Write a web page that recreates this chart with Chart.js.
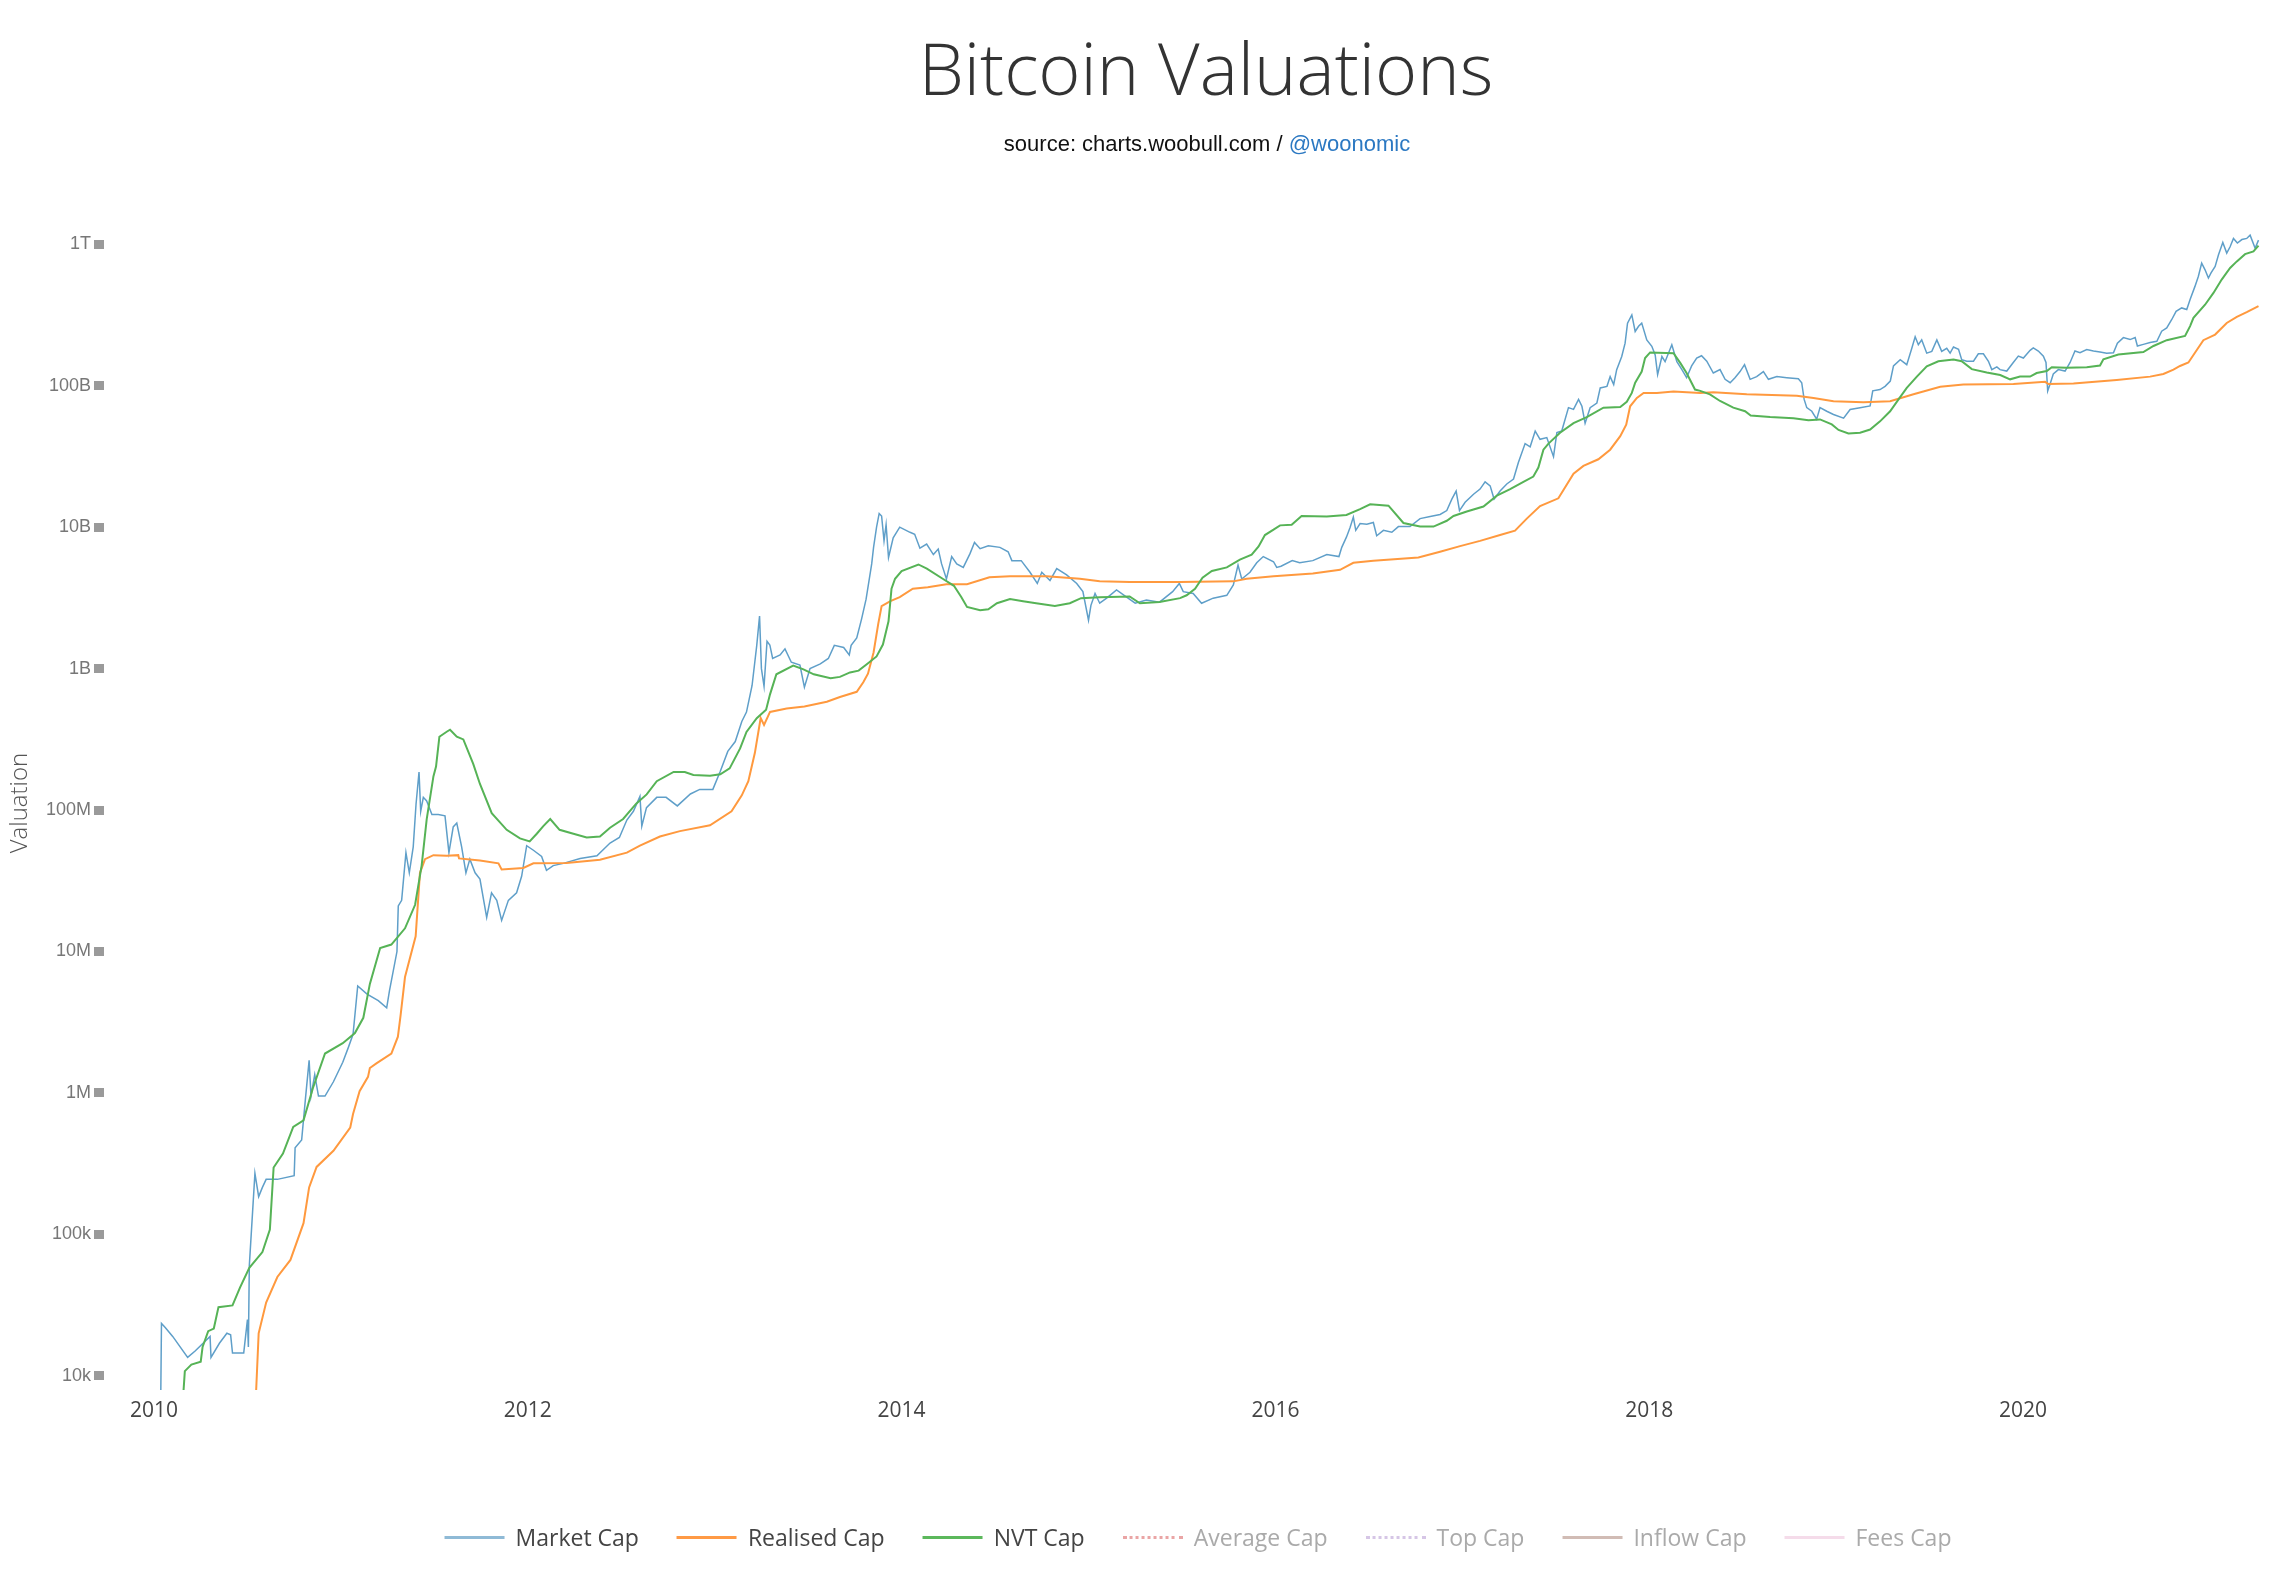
<!DOCTYPE html>
<html>
<head>
<meta charset="utf-8">
<title>Bitcoin Valuations</title>
<script src="https://cdn.jsdelivr.net/npm/chart.js@4.4.1/dist/chart.umd.min.js"></script>
<style>
  body { margin: 0; background: #fff; }
  #wrap { position: relative; width: 2290px; height: 1586px; overflow: hidden; }
  #chart { position: absolute; left: 0; top: 0; }
  .title {
    position: absolute; left: 1206px; top: 31px; transform: translateX(-50%);
    font-family: "Open Sans", sans-serif; font-weight: 300; font-size: 72px;
    line-height: 1; color: #333; white-space: nowrap;
  }
  .sub {
    position: absolute; left: 1207px; top: 133px; transform: translateX(-50%);
    font-family: "Liberation Sans", Arial, sans-serif; font-size: 22px;
    line-height: 1; color: #111; white-space: nowrap;
  }
  .sub a { color: #2b78c2; text-decoration: none; }
  #legend {
    position: absolute; left: 1198px; top: 1523px; transform: translateX(-50%);
    display: flex; align-items: center; white-space: nowrap;
    font-family: "Open Sans", sans-serif; font-size: 23px; line-height: 28px;
  }
  .item { display: flex; align-items: center; margin: 0 19px; }
  .swatch { width: 60px; height: 0; margin-right: 11px; }
</style>
</head>
<body>
<div id="wrap">
  <canvas id="chart" width="2290" height="1586"></canvas>
  <div class="title">Bitcoin Valuations</div>
  <div class="sub">source: charts.woobull.com / <a>@woonomic</a></div>
  <div id="legend"></div>
</div>
<script>
// ---- data (decimal year, USD) ----
const marketCap = [
  [2010.035, 5e3], [2010.04, 23.5e3], [2010.06, 22e3], [2010.10, 19e3], [2010.18, 13.5e3],
  [2010.22, 15e3], [2010.30, 19e3], [2010.305, 13.5e3], [2010.35, 17e3], [2010.39, 20e3],
  [2010.41, 19.5e3], [2010.42, 14.5e3], [2010.48, 14.5e3], [2010.50, 25e3], [2010.505, 16e3],
  [2010.51, 60e3], [2010.54, 270e3], [2010.56, 185e3], [2010.58, 215e3], [2010.60, 245e3],
  [2010.66, 245e3], [2010.75, 260e3], [2010.755, 410e3], [2010.79, 465e3], [2010.81, 900e3],
  [2010.83, 1.7e6], [2010.84, 950e3], [2010.86, 1.35e6], [2010.88, 950e3], [2010.915, 950e3],
  [2010.96, 1.2e6], [2011.01, 1.65e6], [2011.04, 2.1e6], [2011.065, 2.6e6], [2011.09, 5.7e6],
  [2011.14, 5.0e6], [2011.20, 4.5e6], [2011.245, 4.0e6], [2011.26, 5.3e6], [2011.30, 10e6],
  [2011.307, 21e6], [2011.325, 23e6], [2011.348, 50e6], [2011.366, 36e6], [2011.387, 55e6],
  [2011.402, 110e6], [2011.418, 186e6], [2011.427, 98e6], [2011.441, 123e6], [2011.459, 116e6],
  [2011.487, 93e6], [2011.521, 93e6], [2011.557, 91e6], [2011.578, 50e6], [2011.601, 76e6],
  [2011.62, 81e6], [2011.646, 55e6], [2011.669, 36e6], [2011.69, 45e6], [2011.718, 36e6],
  [2011.744, 32.5e6], [2011.78, 17.4e6], [2011.806, 26e6], [2011.834, 23e6], [2011.86, 16.6e6],
  [2011.896, 23e6], [2011.94, 26e6], [2011.967, 34e6], [2011.994, 56e6], [2012.03, 52e6],
  [2012.074, 47e6], [2012.10, 37.5e6], [2012.136, 40.5e6], [2012.19, 42e6], [2012.28, 45.5e6],
  [2012.37, 47.5e6], [2012.44, 58.5e6], [2012.49, 64e6], [2012.53, 85e6], [2012.565, 98e6],
  [2012.60, 125e6], [2012.61, 77e6], [2012.635, 104e6], [2012.69, 123e6], [2012.74, 123e6],
  [2012.80, 107e6], [2012.87, 130e6], [2012.92, 140e6], [2012.99, 140e6], [2013.03, 188e6],
  [2013.07, 260e6], [2013.11, 305e6], [2013.145, 423e6], [2013.17, 493e6], [2013.20, 760e6],
  [2013.225, 1.46e9], [2013.24, 2.35e9], [2013.25, 1.0e9], [2013.264, 750e6], [2013.28, 1.56e9],
  [2013.295, 1.47e9], [2013.31, 1.18e9], [2013.35, 1.25e9], [2013.376, 1.38e9], [2013.41, 1.11e9],
  [2013.456, 1.06e9], [2013.48, 740e6], [2013.51, 1.0e9], [2013.565, 1.08e9], [2013.608, 1.18e9],
  [2013.64, 1.46e9], [2013.69, 1.41e9], [2013.72, 1.25e9], [2013.73, 1.46e9], [2013.76, 1.65e9],
  [2013.786, 2.25e9], [2013.81, 3.1e9], [2013.84, 5.5e9], [2013.85, 7.2e9], [2013.866, 10e9],
  [2013.88, 12.5e9], [2013.893, 12e9], [2013.906, 8.0e9], [2013.917, 10.4e9], [2013.93, 6.1e9],
  [2013.955, 8.4e9], [2013.99, 10e9], [2014.045, 9.2e9], [2014.07, 8.9e9], [2014.098, 7.1e9],
  [2014.134, 7.6e9], [2014.17, 6.4e9], [2014.196, 7.0e9], [2014.214, 5.5e9], [2014.24, 4.3e9],
  [2014.268, 6.2e9], [2014.295, 5.5e9], [2014.33, 5.2e9], [2014.366, 6.5e9], [2014.39, 7.8e9],
  [2014.42, 7.05e9], [2014.464, 7.4e9], [2014.526, 7.2e9], [2014.57, 6.7e9], [2014.59, 5.8e9],
  [2014.64, 5.8e9], [2014.687, 4.8e9], [2014.726, 4.0e9], [2014.75, 4.8e9], [2014.794, 4.2e9],
  [2014.83, 5.1e9], [2014.883, 4.6e9], [2014.937, 4.0e9], [2014.97, 3.5e9], [2015.0, 2.2e9],
  [2015.013, 2.8e9], [2015.035, 3.4e9], [2015.06, 2.9e9], [2015.097, 3.15e9], [2015.15, 3.6e9],
  [2015.204, 3.2e9], [2015.25, 2.9e9], [2015.31, 3.05e9], [2015.38, 2.95e9], [2015.45, 3.5e9],
  [2015.486, 4.0e9], [2015.507, 3.5e9], [2015.56, 3.4e9], [2015.605, 2.9e9], [2015.667, 3.15e9],
  [2015.74, 3.3e9], [2015.775, 3.9e9], [2015.80, 5.4e9], [2015.82, 4.3e9], [2015.864, 4.8e9],
  [2015.90, 5.6e9], [2015.935, 6.2e9], [2015.99, 5.7e9], [2016.007, 5.2e9], [2016.03, 5.3e9],
  [2016.09, 5.8e9], [2016.13, 5.6e9], [2016.20, 5.8e9], [2016.275, 6.4e9], [2016.34, 6.2e9],
  [2016.355, 7.2e9], [2016.38, 8.5e9], [2016.40, 10e9], [2016.417, 11.8e9], [2016.43, 9.5e9],
  [2016.453, 10.6e9], [2016.489, 10.5e9], [2016.524, 10.8e9], [2016.542, 8.7e9], [2016.578, 9.5e9],
  [2016.623, 9.2e9], [2016.658, 10.1e9], [2016.72, 10.1e9], [2016.774, 11.5e9], [2016.828, 11.9e9],
  [2016.881, 12.3e9], [2016.917, 13.1e9], [2016.944, 15.8e9], [2016.967, 18e9], [2016.985, 13.1e9],
  [2017.015, 15e9], [2017.06, 17.1e9], [2017.095, 18.6e9], [2017.122, 20.9e9], [2017.149, 19.6e9],
  [2017.17, 15.8e9], [2017.202, 18e9], [2017.238, 20.2e9], [2017.274, 21.9e9], [2017.30, 28.7e9],
  [2017.336, 39e9], [2017.363, 37e9], [2017.39, 47.8e9], [2017.416, 41.8e9], [2017.452, 43e9],
  [2017.488, 31.5e9], [2017.506, 46.6e9], [2017.532, 47.8e9], [2017.568, 70e9], [2017.595, 68e9],
  [2017.622, 80e9], [2017.64, 71.6e9], [2017.657, 54.4e9], [2017.684, 70e9], [2017.72, 75.5e9],
  [2017.738, 96.5e9], [2017.774, 99e9], [2017.791, 116e9], [2017.81, 102e9], [2017.826, 130e9],
  [2017.853, 161e9], [2017.871, 200e9], [2017.884, 277e9], [2017.907, 317e9], [2017.925, 242e9],
  [2017.943, 263e9], [2017.96, 277e9], [2017.987, 211e9], [2018.014, 190e9], [2018.032, 165e9],
  [2018.045, 120e9], [2018.068, 161e9], [2018.085, 148e9], [2018.121, 195e9], [2018.148, 148e9],
  [2018.175, 130e9], [2018.20, 114e9], [2018.227, 138e9], [2018.254, 157e9], [2018.28, 163e9],
  [2018.308, 149e9], [2018.343, 123e9], [2018.379, 130e9], [2018.406, 111e9], [2018.433, 105e9],
  [2018.459, 114e9], [2018.486, 126e9], [2018.51, 141e9], [2018.54, 111e9], [2018.575, 116e9],
  [2018.611, 126e9], [2018.638, 111e9], [2018.683, 116e9], [2018.736, 114e9], [2018.798, 112e9],
  [2018.816, 105e9], [2018.829, 80e9], [2018.843, 70e9], [2018.87, 66e9], [2018.896, 58e9],
  [2018.914, 70e9], [2018.95, 66e9], [2018.986, 62.6e9], [2019.04, 59e9], [2019.075, 68e9],
  [2019.128, 70e9], [2019.182, 72e9], [2019.196, 92e9], [2019.235, 94e9], [2019.262, 99e9],
  [2019.29, 108e9], [2019.307, 138e9], [2019.343, 153e9], [2019.378, 141e9], [2019.405, 184e9],
  [2019.423, 222e9], [2019.44, 195e9], [2019.458, 211e9], [2019.485, 170e9], [2019.512, 175e9],
  [2019.539, 211e9], [2019.565, 175e9], [2019.592, 184e9], [2019.61, 170e9], [2019.628, 188e9],
  [2019.655, 181e9], [2019.672, 153e9], [2019.699, 149e9], [2019.735, 149e9], [2019.761, 168e9],
  [2019.788, 168e9], [2019.815, 149e9], [2019.833, 130e9], [2019.86, 136e9], [2019.877, 130e9],
  [2019.913, 127e9], [2019.948, 146e9], [2019.975, 162e9], [2020.002, 157e9], [2020.038, 178e9],
  [2020.055, 185e9], [2020.082, 176e9], [2020.109, 162e9], [2020.123, 146e9], [2020.132, 92e9],
  [2020.145, 103e9], [2020.162, 121e9], [2020.189, 130e9], [2020.225, 127e9], [2020.252, 146e9],
  [2020.278, 176e9], [2020.305, 171e9], [2020.341, 180e9], [2020.377, 176e9], [2020.412, 173e9],
  [2020.448, 170e9], [2020.484, 171e9], [2020.505, 200e9], [2020.537, 219e9], [2020.573, 212e9],
  [2020.60, 219e9], [2020.612, 191e9], [2020.644, 196e9], [2020.68, 202e9], [2020.716, 206e9],
  [2020.742, 243e9], [2020.769, 256e9], [2020.796, 294e9], [2020.819, 336e9], [2020.849, 355e9],
  [2020.876, 346e9], [2020.894, 407e9], [2020.92, 504e9], [2020.938, 592e9], [2020.956, 736e9],
  [2020.974, 660e9], [2020.992, 577e9], [2021.006, 627e9], [2021.028, 697e9], [2021.046, 844e9],
  [2021.069, 1.03e12], [2021.09, 866e9], [2021.108, 960e9], [2021.126, 1.10e12], [2021.147, 1.02e12],
  [2021.171, 1.08e12], [2021.197, 1.10e12], [2021.215, 1.16e12], [2021.242, 938e9], [2021.26, 1.07e12]
];

const realisedCap = [
  [2010.54, 5e3], [2010.56, 20e3], [2010.60, 33e3], [2010.66, 50e3], [2010.73, 66e3],
  [2010.80, 120e3], [2010.83, 215e3], [2010.87, 300e3], [2010.96, 390e3], [2011.05, 570e3],
  [2011.065, 710e3], [2011.10, 1.03e6], [2011.145, 1.3e6], [2011.155, 1.5e6], [2011.19, 1.62e6],
  [2011.27, 1.9e6], [2011.305, 2.5e6], [2011.32, 3.6e6], [2011.343, 6.6e6], [2011.40, 12.8e6],
  [2011.423, 36e6], [2011.45, 45e6], [2011.495, 48e6], [2011.566, 47.5e6], [2011.628, 48e6],
  [2011.632, 45.5e6], [2011.744, 44e6], [2011.843, 42e6], [2011.86, 38e6], [2011.976, 39e6],
  [2012.03, 42e6], [2012.207, 42.3e6], [2012.386, 44.6e6], [2012.53, 50e6], [2012.60, 56e6],
  [2012.707, 65e6], [2012.814, 71e6], [2012.975, 78e6], [2013.09, 98e6], [2013.145, 127e6],
  [2013.18, 160e6], [2013.215, 254e6], [2013.246, 447e6], [2013.264, 400e6], [2013.296, 494e6],
  [2013.385, 522e6], [2013.48, 540e6], [2013.60, 583e6], [2013.67, 630e6], [2013.76, 686e6],
  [2013.795, 800e6], [2013.82, 921e6], [2013.85, 1.3e9], [2013.875, 2.07e9], [2013.893, 2.77e9],
  [2013.94, 3.0e9], [2013.99, 3.2e9], [2014.06, 3.67e9], [2014.14, 3.76e9], [2014.24, 3.95e9],
  [2014.35, 3.95e9], [2014.47, 4.42e9], [2014.58, 4.5e9], [2014.776, 4.5e9], [2014.954, 4.32e9],
  [2015.06, 4.14e9], [2015.22, 4.09e9], [2015.49, 4.09e9], [2015.775, 4.14e9], [2015.846, 4.32e9],
  [2015.99, 4.5e9], [2016.20, 4.7e9], [2016.346, 5.0e9], [2016.417, 5.6e9], [2016.524, 5.8e9],
  [2016.765, 6.1e9], [2016.881, 6.7e9], [2016.988, 7.35e9], [2017.095, 8.0e9], [2017.202, 8.8e9],
  [2017.282, 9.45e9], [2017.345, 11.5e9], [2017.416, 14.1e9], [2017.514, 16e9], [2017.595, 23.9e9],
  [2017.648, 27.1e9], [2017.728, 30.2e9], [2017.791, 35.3e9], [2017.845, 44e9], [2017.877, 53e9],
  [2017.898, 71.6e9], [2017.934, 82e9], [2017.97, 89e9], [2018.041, 89e9], [2018.13, 91e9],
  [2018.273, 88.8e9], [2018.343, 89.8e9], [2018.522, 87e9], [2018.79, 85e9], [2018.879, 82e9],
  [2018.986, 77.8e9], [2019.146, 76.4e9], [2019.289, 77.8e9], [2019.414, 87e9], [2019.557, 98.4e9],
  [2019.681, 102e9], [2019.949, 103e9], [2020.118, 106.5e9], [2020.136, 102.7e9], [2020.27, 103.7e9],
  [2020.501, 110e9], [2020.68, 116e9], [2020.751, 121e9], [2020.805, 130e9], [2020.84, 138e9],
  [2020.885, 146e9], [2020.92, 171e9], [2020.965, 210e9], [2021.028, 230e9], [2021.09, 278e9],
  [2021.144, 307e9], [2021.197, 331e9], [2021.26, 365e9]
];

const nvtCap = [
  [2010.148, 5e3], [2010.165, 10.8e3], [2010.20, 12e3], [2010.25, 12.6e3], [2010.26, 16e3],
  [2010.29, 20.7e3], [2010.32, 21.6e3], [2010.345, 30.6e3], [2010.42, 31.5e3], [2010.46, 42e3],
  [2010.51, 58e3], [2010.58, 75e3], [2010.62, 108e3], [2010.64, 297e3], [2010.69, 373e3],
  [2010.745, 576e3], [2010.80, 640e3], [2010.85, 1.08e6], [2010.915, 1.9e6], [2011.01, 2.25e6],
  [2011.075, 2.65e6], [2011.12, 3.4e6], [2011.155, 5.9e6], [2011.21, 10.6e6], [2011.27, 11.2e6],
  [2011.343, 14.6e6], [2011.397, 21.4e6], [2011.432, 40.5e6], [2011.459, 86e6], [2011.495, 173e6],
  [2011.509, 203e6], [2011.527, 330e6], [2011.566, 358e6], [2011.584, 370e6], [2011.62, 330e6],
  [2011.655, 316e6], [2011.708, 212e6], [2011.744, 153e6], [2011.807, 95e6], [2011.887, 72.5e6],
  [2011.958, 63e6], [2012.01, 60e6], [2012.048, 68e6], [2012.083, 77e6], [2012.12, 86.5e6],
  [2012.17, 72.5e6], [2012.244, 68e6], [2012.315, 64e6], [2012.386, 65e6], [2012.44, 75e6],
  [2012.51, 86.5e6], [2012.58, 111e6], [2012.636, 129e6], [2012.69, 160e6], [2012.78, 186e6],
  [2012.84, 186e6], [2012.886, 177e6], [2012.975, 175e6], [2013.03, 179e6], [2013.08, 197e6],
  [2013.136, 273e6], [2013.17, 357e6], [2013.225, 446e6], [2013.275, 512e6], [2013.296, 658e6],
  [2013.33, 912e6], [2013.42, 1.05e9], [2013.475, 987e6], [2013.53, 912e6], [2013.62, 855e6],
  [2013.67, 874e6], [2013.724, 940e6], [2013.77, 968e6], [2013.812, 1.07e9], [2013.866, 1.22e9],
  [2013.90, 1.48e9], [2013.93, 2.16e9], [2013.946, 3.67e9], [2013.965, 4.32e9], [2014.0, 4.9e9],
  [2014.09, 5.45e9], [2014.135, 5.1e9], [2014.22, 4.32e9], [2014.28, 3.85e9], [2014.32, 3.2e9],
  [2014.35, 2.73e9], [2014.42, 2.59e9], [2014.464, 2.63e9], [2014.51, 2.9e9], [2014.58, 3.1e9],
  [2014.65, 3.0e9], [2014.72, 2.9e9], [2014.82, 2.77e9], [2014.90, 2.9e9], [2014.96, 3.15e9],
  [2015.06, 3.2e9], [2015.22, 3.24e9], [2015.275, 2.9e9], [2015.38, 2.96e9], [2015.49, 3.15e9],
  [2015.525, 3.3e9], [2015.57, 3.67e9], [2015.61, 4.4e9], [2015.66, 4.9e9], [2015.74, 5.2e9],
  [2015.81, 5.9e9], [2015.873, 6.4e9], [2015.91, 7.3e9], [2015.944, 8.8e9], [2015.99, 9.6e9],
  [2016.025, 10.3e9], [2016.087, 10.4e9], [2016.14, 12.0e9], [2016.275, 11.9e9], [2016.38, 12.2e9],
  [2016.453, 13.4e9], [2016.507, 14.5e9], [2016.605, 14.2e9], [2016.685, 10.7e9], [2016.774, 10.1e9],
  [2016.846, 10.1e9], [2016.917, 11.1e9], [2016.953, 12.0e9], [2017.024, 12.9e9], [2017.113, 14.0e9],
  [2017.185, 16.7e9], [2017.256, 18.6e9], [2017.327, 20.9e9], [2017.38, 22.8e9], [2017.407, 26.4e9],
  [2017.434, 35.3e9], [2017.461, 39e9], [2017.523, 46.5e9], [2017.595, 54.4e9], [2017.666, 60e9],
  [2017.755, 70e9], [2017.845, 70.7e9], [2017.88, 77e9], [2017.907, 89e9], [2017.925, 105e9],
  [2017.96, 126e9], [2017.978, 157e9], [2018.005, 172e9], [2018.13, 170e9], [2018.166, 145e9],
  [2018.20, 123e9], [2018.245, 94e9], [2018.273, 92e9], [2018.325, 87e9], [2018.379, 78e9],
  [2018.45, 70e9], [2018.513, 66e9], [2018.543, 61.6e9], [2018.647, 60e9], [2018.772, 59e9],
  [2018.852, 57e9], [2018.914, 57.8e9], [2018.977, 53.3e9], [2019.013, 48.7e9], [2019.066, 46e9],
  [2019.128, 46.6e9], [2019.182, 49e9], [2019.235, 56e9], [2019.289, 66e9], [2019.334, 80e9],
  [2019.378, 96.5e9], [2019.432, 116e9], [2019.485, 137e9], [2019.547, 149e9], [2019.628, 153e9],
  [2019.672, 149e9], [2019.726, 131e9], [2019.806, 124e9], [2019.878, 119e9], [2019.931, 111e9],
  [2019.984, 116e9], [2020.038, 116e9], [2020.073, 123e9], [2020.127, 127e9], [2020.154, 135e9],
  [2020.234, 134e9], [2020.341, 135e9], [2020.412, 139e9], [2020.43, 154e9], [2020.51, 166e9],
  [2020.644, 173e9], [2020.698, 191e9], [2020.769, 210e9], [2020.867, 225e9], [2020.894, 264e9],
  [2020.912, 302e9], [2020.974, 374e9], [2021.019, 453e9], [2021.063, 563e9], [2021.108, 680e9],
  [2021.144, 757e9], [2021.188, 852e9], [2021.233, 890e9], [2021.26, 979e9]
];

const yearTicks = [2010, 2012, 2014, 2016, 2018, 2020];
const valueTicks = [1e4, 1e5, 1e6, 1e7, 1e8, 1e9, 1e10, 1e11, 1e12];
const valueLabels = ['10k', '100k', '1M', '10M', '100M', '1B', '10B', '100B', '1T'];

// legend entries: the last four are switched off in the original
const legendNames = ['Market Cap', 'Realised Cap', 'NVT Cap', 'Average Cap', 'Top Cap', 'Inflow Cap', 'Fees Cap'];
const legendColors = ['#8fbad6', '#ff9a45', '#5cb85c', '#eaa5a5', '#d6c6e6', '#d1bcb5', '#f5dcea'];
const legendDotted = [false, false, false, true, true, false, false];
const legendActive = [true, true, true, false, false, false, false];

// ---- legend (html) ----
const legendEl = document.getElementById('legend');
legendNames.forEach((name, i) => {
  const item = document.createElement('div');
  item.className = 'item';
  const sw = document.createElement('span');
  sw.className = 'swatch';
  sw.style.borderTop = '3px ' + (legendDotted[i] ? 'dotted ' : 'solid ') + legendColors[i];
  const txt = document.createElement('span');
  txt.textContent = name;
  txt.style.color = legendActive[i] ? '#444' : '#aaa';
  item.appendChild(sw);
  item.appendChild(txt);
  legendEl.appendChild(item);
});

// ---- chart ----
const toPoints = arr => arr.map(p => ({ x: p[0], y: p[1] }));

const ctx = document.getElementById('chart').getContext('2d');
new Chart(ctx, {
  type: 'line',
  data: {
    datasets: [
      { label: 'Market Cap', data: toPoints(marketCap), borderColor: '#5f9fc9', borderWidth: 1.5, order: 3 },
      { label: 'Realised Cap', data: toPoints(realisedCap), borderColor: '#ff993e', borderWidth: 2, order: 2 },
      { label: 'NVT Cap', data: toPoints(nvtCap), borderColor: '#56b356', borderWidth: 2, order: 1 }
    ]
  },
  options: {
    responsive: false,
    animation: false,
    events: [],
    elements: { point: { radius: 0 }, line: { tension: 0 } },
    layout: { padding: { top: 216, right: 30, bottom: 156, left: 0 } },
    plugins: { legend: { display: false }, tooltip: { enabled: false } },
    scales: {
      x: {
        type: 'linear',
        min: 2009.7325,
        max: 2021.268,
        grid: { display: false, drawTicks: false },
        border: { display: false },
        ticks: {
          padding: 8,
          color: '#444',
          font: { family: 'Open Sans', size: 21 },
          callback: v => String(v)
        },
        afterBuildTicks: s => { s.ticks = yearTicks.map(v => ({ value: v })); },
        afterFit: s => { s.height = 40; }
      },
      y: {
        type: 'logarithmic',
        min: 7943,
        max: 1.585e12,
        grid: { drawOnChartArea: false, drawTicks: true, tickLength: 10, tickWidth: 9, tickColor: '#9a9a9a' },
        border: { display: false },
        ticks: {
          padding: 3,
          color: '#777',
          font: { family: 'Liberation Sans', size: 18 },
          callback: (v, i) => valueLabels[i]
        },
        afterBuildTicks: s => { s.ticks = valueTicks.map(v => ({ value: v })); },
        afterFit: s => { s.width = 104; },
        title: {
          display: true,
          text: 'Valuation',
          color: '#555',
          font: { family: 'Open Sans', size: 24, weight: '300' },
          padding: { top: 6, bottom: 0 }
        }
      }
    }
  }
});
</script>
</body>
</html>
